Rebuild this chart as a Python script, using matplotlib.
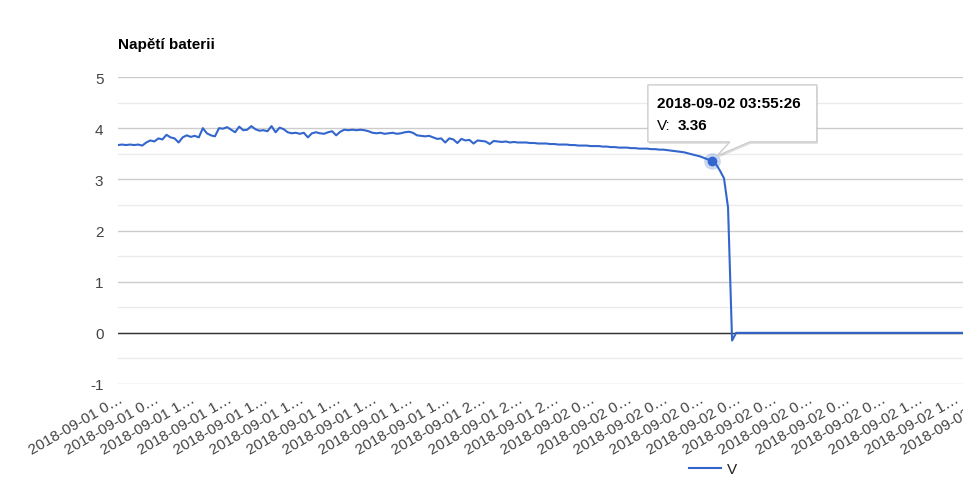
import matplotlib
matplotlib.use("Agg")
import matplotlib.pyplot as plt
import matplotlib.transforms as mtransforms
from matplotlib.lines import Line2D
from matplotlib.patches import Polygon
import numpy as np

plt.rcParams["font.family"] = ["Liberation Sans", "DejaVu Sans"]
plt.rcParams["axes.unicode_minus"] = False

title = "Napětí baterii"
series_name = "V"

# battery voltage, one sample every ~8 min
volts = [
    3.67, 3.68, 3.67, 3.68, 3.67, 3.68, 3.66, 3.72, 3.76, 3.74,
    3.80, 3.78, 3.87, 3.82, 3.80, 3.72, 3.82, 3.86, 3.83, 3.85,
    3.82, 4.00, 3.90, 3.86, 3.84, 4.00, 3.99, 4.02, 3.97, 3.92,
    4.03, 3.96, 3.97, 4.04, 3.98, 3.95, 3.96, 3.94, 4.04, 3.92,
    4.01, 3.98, 3.92, 3.90, 3.91, 3.89, 3.91, 3.82, 3.90, 3.92,
    3.90, 3.89, 3.92, 3.94, 3.86, 3.93, 3.97, 3.96, 3.97, 3.96,
    3.97, 3.96, 3.94, 3.91, 3.90, 3.91, 3.89, 3.90, 3.91, 3.89,
    3.90, 3.92, 3.93, 3.91, 3.86, 3.85, 3.84, 3.85, 3.82, 3.79,
    3.80, 3.72, 3.80, 3.78, 3.71, 3.79, 3.76, 3.77, 3.70, 3.76,
    3.75, 3.74, 3.69, 3.75, 3.74, 3.73, 3.74, 3.72, 3.73, 3.72,
    3.72, 3.72, 3.71, 3.71, 3.70, 3.70, 3.70, 3.69, 3.69, 3.68,
    3.68, 3.68, 3.67, 3.67, 3.66, 3.66, 3.66, 3.65, 3.65, 3.65,
    3.64, 3.64, 3.63, 3.63, 3.62, 3.62, 3.62, 3.61, 3.61, 3.60,
    3.60, 3.60, 3.59, 3.59, 3.58, 3.58, 3.57, 3.56, 3.55, 3.54,
    3.53, 3.51, 3.49, 3.47, 3.45, 3.42, 3.39, 3.36, 3.30, 3.17,
    3.02, 2.45, -0.15,
]
volts_dead = [0.0] * 107  # flat zero after the battery died

tick_labels = [
    "2018-09-01 0…", "2018-09-01 0…",
    "2018-09-01 1…", "2018-09-01 1…", "2018-09-01 1…", "2018-09-01 1…",
    "2018-09-01 1…", "2018-09-01 1…", "2018-09-01 1…", "2018-09-01 1…",
    "2018-09-01 2…", "2018-09-01 2…", "2018-09-01 2…",
    "2018-09-02 0…", "2018-09-02 0…", "2018-09-02 0…", "2018-09-02 0…",
    "2018-09-02 0…", "2018-09-02 0…", "2018-09-02 0…", "2018-09-02 0…",
    "2018-09-02 0…",
    "2018-09-02 1…", "2018-09-02 1…", "2018-09-02 1…",
]
tick_every = 9

tip_index = 147
tip_time = "2018-09-02 03:55:26"

values = np.array(volts + volts_dead)
x = np.arange(len(values))

W, H = 963, 489
px_per_sample = 4.04
fig = plt.figure(figsize=(W / 100, H / 100), dpi=100)
ax = fig.add_axes([118 / W, 104 / H, (len(values) - 1) * px_per_sample / W, 307 / H])

line_c = "#3366cc"
txt_c = "#444444"

ax.set_xlim(0, len(values) - 1)
ax.set_ylim(-1, 5)
ax.set_yticks(range(-1, 6))
ax.set_yticks(np.arange(-0.5, 5, 1), minor=True)
ax.grid(axis="y", which="major", color="#cccccc", lw=1)
ax.grid(axis="y", which="minor", color="#ebebeb", lw=1)
ax.axhline(0, color="#333333", lw=1, zorder=2.5)
for s in ax.spines.values():
    s.set_visible(False)

ax.tick_params(axis="y", which="both", length=0, pad=10.5, labelsize=11, labelcolor=txt_c)
ax.tick_params(axis="x", which="both", length=0, pad=5.5, labelsize=11, labelcolor=txt_c)
ax.set_xticks(x[::tick_every][:len(tick_labels)])
ax.set_xticklabels(tick_labels, rotation=30, ha="right", va="top", rotation_mode="anchor")

ax.plot(x, values, color=line_c, lw=1.5, zorder=3, solid_joinstyle="round")

fig.text(118 / W, 1 - 45 / H, title, ha="left", va="center", fontsize=11,
         fontweight="bold", color="black")

# highlighted point and tooltip
tv = values[tip_index]
ax.plot(tip_index, tv, "o", ms=12, color=line_c, alpha=0.25, mec="none", zorder=4)
ax.plot(tip_index, tv, "o", ms=7, color=line_c, mec="none", zorder=5)

off = mtransforms.Affine2D() + mtransforms.ScaledTranslation(tip_index, tv, ax.transData)
box = [(-64, 76), (105, 76), (105, 19), (38, 19), (5, 5), (18, 19), (-64, 19)]
shadow = Polygon([(a + 1, b - 2) for a, b in box], closed=True, fc="#000000", alpha=0.12,
                 ec="none", transform=off, clip_on=False, zorder=6)
ax.add_patch(shadow)
ax.add_patch(Polygon(box, closed=True, fc="white", ec="#cccccc", lw=1,
                     transform=off, clip_on=False, zorder=7))
ax.text(-55, 58, tip_time, transform=off, ha="left", va="center", fontsize=11,
        fontweight="bold", color="black", zorder=8)
ax.text(-55, 36, "V:", transform=off, ha="left", va="center", fontsize=11,
        color="black", zorder=8)
ax.text(-34, 36, f"{tv:.2f}", transform=off, ha="left", va="center", fontsize=11,
        fontweight="bold", color="black", zorder=8)

handle = Line2D([], [], color=line_c, lw=1.5)
fig.legend([handle], [series_name], loc="center", bbox_to_anchor=(713 / W, 1 - 470 / H),
           frameon=False, fontsize=11, handlelength=2.1, handletextpad=0.4,
           labelcolor="#222222")

fig.savefig("out.png", dpi=100)
